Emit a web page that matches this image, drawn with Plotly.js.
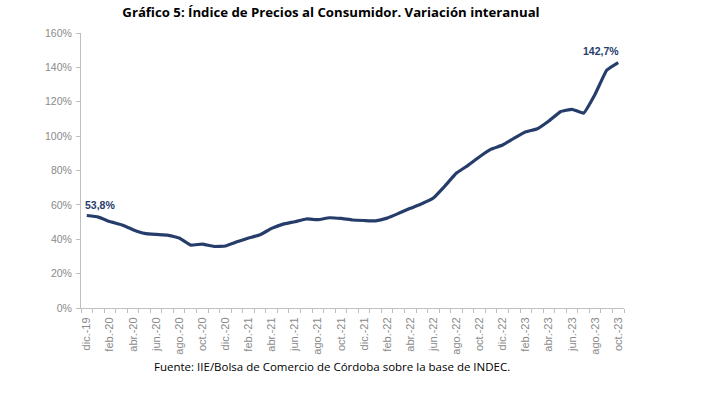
<!DOCTYPE html>
<html>
<head>
<meta charset="utf-8">
<script src="https://cdn.plot.ly/plotly-3.0.1.min.js"></script>
<style>html,body{margin:0;padding:0;background:#fff;}#chart{width:709px;height:394px;}</style>
</head>
<body>
<div id="chart"></div>
<script>
const months = ["dic.-19","ene.-20","feb.-20","mar.-20","abr.-20","may.-20","jun.-20","jul.-20","ago.-20","sep.-20","oct.-20","nov.-20",
"dic.-20","ene.-21","feb.-21","mar.-21","abr.-21","may.-21","jun.-21","jul.-21","ago.-21","sep.-21","oct.-21","nov.-21",
"dic.-21","ene.-22","feb.-22","mar.-22","abr.-22","may.-22","jun.-22","jul.-22","ago.-22","sep.-22","oct.-22","nov.-22",
"dic.-22","ene.-23","feb.-23","mar.-23","abr.-23","may.-23","jun.-23","jul.-23","ago.-23","sep.-23","oct.-23"];
const ipcYoY = [53.8,52.9,50.3,48.4,45.6,43.4,42.8,42.4,40.7,36.6,37.2,35.8,
36.1,38.5,40.7,42.6,46.3,48.8,50.2,51.8,51.4,52.5,52.1,51.2,
50.9,50.7,52.3,55.1,58.0,60.7,64.0,71.0,78.5,83.0,88.0,92.4,
94.8,98.8,102.5,104.3,108.8,114.2,115.6,113.4,124.4,138.3,142.7];
const yTicks = [0,20,40,60,80,100,120,140,160];
const yTickText = yTicks.map(v => v + '%');

const xIdx = months.map((_, i) => i);
const labelIdx = xIdx.filter(i => i % 2 === 0);
const labelText = labelIdx.map(i => months[i]);
const fmt = v => v.toFixed(1).replace('.', ',') + '%';
const last = ipcYoY.length - 1;

const axisFont = {family: 'Liberation Sans', size: 10.5, color: '#8a8a8a'};
const xFont = {family: 'Liberation Sans', size: 11, color: '#8a8a8a'};
const labelFont = {family: 'Liberation Sans', size: 10.5, color: '#263d6b', weight: 'bold'};

const trace = {
  x: xIdx, y: ipcYoY, type: 'scatter', mode: 'lines',
  line: {color: '#263d6b', width: 3.2, shape: 'spline', smoothing: 0.3},
  hoverinfo: 'skip'
};

const layout = {
  width: 709, height: 394,
  margin: {l: 81, r: 85, t: 33, b: 86},
  paper_bgcolor: '#ffffff', plot_bgcolor: '#ffffff',
  showlegend: false,
  title: {
    text: '<b>Gráfico 5: Índice de Precios al Consumidor. Variación interanual</b>',
    font: {family: 'Open Sans', size: 13.2, color: '#000000'},
    x: 331 / 709, xanchor: 'center', y: 0.968, yanchor: 'middle'
  },
  xaxis: {
    range: [-0.5, months.length - 0.5],
    tickmode: 'array', tickvals: labelIdx, ticktext: labelText,
    tickangle: -90, ticks: '', showgrid: false, zeroline: false,
    showline: true, linecolor: '#bfbfbf', linewidth: 1,
    tickfont: xFont, ticklabelstandoff: 4,
    minor: {tickmode: 'linear', tick0: -0.5, dtick: 1, ticks: 'outside', ticklen: 4, tickcolor: '#bfbfbf', tickwidth: 1, showgrid: false},
    fixedrange: true
  },
  yaxis: {
    range: [0, 160], tickmode: 'array', tickvals: yTicks, ticktext: yTickText,
    ticks: 'outside', ticklen: 4, tickcolor: '#bfbfbf', tickwidth: 1,
    showgrid: false, zeroline: false, showline: true, linecolor: '#bfbfbf', linewidth: 1,
    tickfont: axisFont,
    ticklabelstandoff: 2,
    fixedrange: true
  },
  annotations: [
    {x: 0, y: ipcYoY[0], xref: 'x', yref: 'y', text: fmt(ipcYoY[0]), showarrow: false,
     xanchor: 'left', yanchor: 'bottom', xshift: -4, yshift: 3, font: labelFont},
    {x: last, y: ipcYoY[last], xref: 'x', yref: 'y', text: fmt(ipcYoY[last]), showarrow: false,
     xanchor: 'right', yanchor: 'bottom', xshift: 3, yshift: 4, font: labelFont},
    {x: 0, y: 0, xref: 'paper', yref: 'paper', text: 'Fuente: IIE/Bolsa de Comercio de Córdoba sobre la base de INDEC.',
     showarrow: false, xanchor: 'center', yanchor: 'middle',
     font: {family: 'Open Sans', size: 11.5, color: '#000000'}}
  ]
};
const plotH = layout.height - layout.margin.t - layout.margin.b;
const plotW = layout.width - layout.margin.l - layout.margin.r;
layout.annotations[2].y = (layout.height - layout.margin.b - 366) / plotH;
layout.annotations[2].x = (332 - layout.margin.l) / plotW;

Plotly.newPlot('chart', [trace], layout, {displayModeBar: false, staticPlot: true});
</script>
</body>
</html>
